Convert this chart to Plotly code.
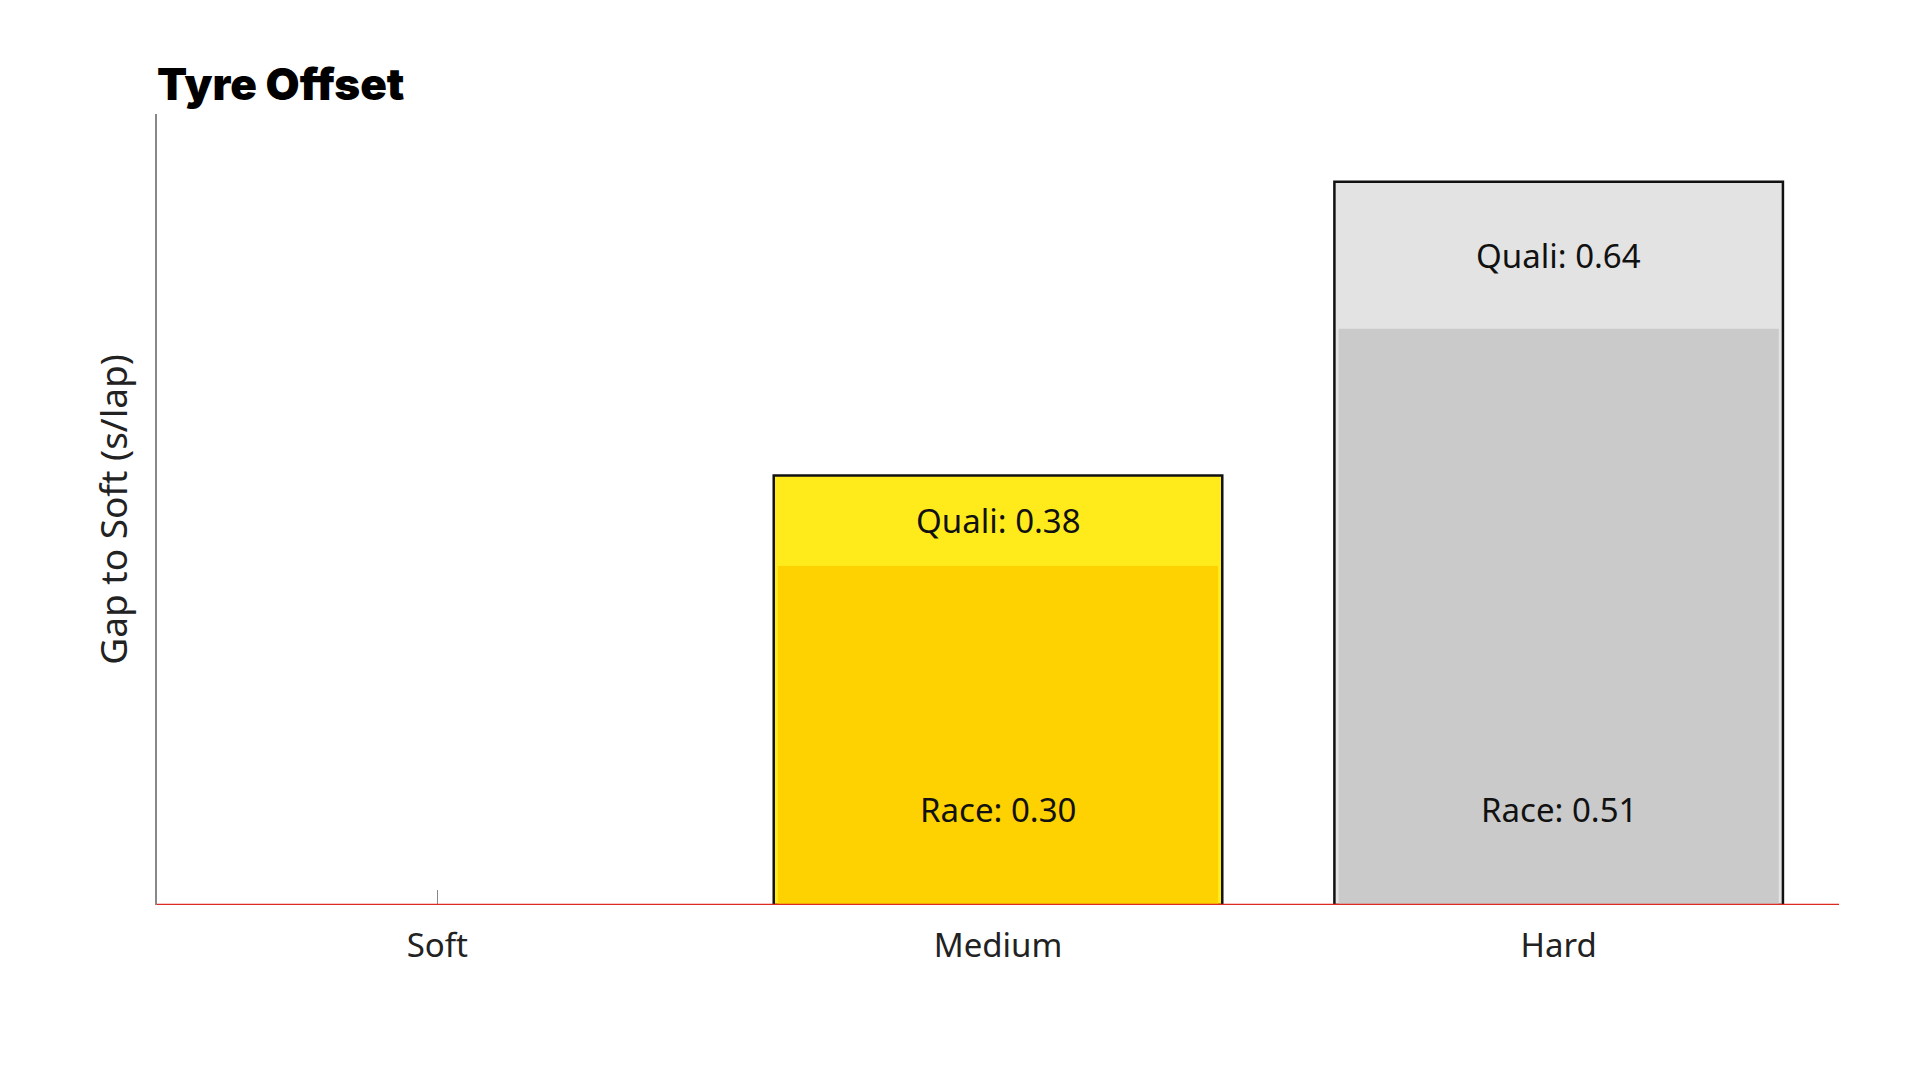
import plotly.graph_objects as go

compounds = ['Soft', 'Medium', 'Hard']
quali_gap = [0.0, 0.38, 0.64]
race_gap = [0.0, 0.30, 0.51]

quali_colors = ['#FFFFFF', '#FFEB1C', '#E3E3E3']
race_colors = ['#FFFFFF', '#FED200', '#CACACA']

font_name = 'Noto Sans'

quali = go.Bar(x=compounds, y=quali_gap, width=0.8,
               marker=dict(color=quali_colors,
                           line=dict(color=['rgba(0,0,0,0)', '#111111', '#111111'], width=2.5)),
               hoverinfo='skip', name='Quali')
race = go.Bar(x=compounds, y=race_gap, width=0.785,
              marker=dict(color=race_colors, line=dict(width=0)),
              hoverinfo='skip', name='Race')

fig = go.Figure(data=[quali, race])

# labels: quali in the middle of the top segment, race near the bottom
for c, q, r in zip(compounds, quali_gap, race_gap):
    if q == 0:
        continue
    fig.add_annotation(x=c, y=(q + r) / 2, text=f'Quali: {q:.2f}', showarrow=False,
                       font=dict(family=font_name, size=33, color='#111111'))
    fig.add_annotation(x=c, y=0, yshift=96, text=f'Race: {r:.2f}', showarrow=False,
                       font=dict(family=font_name, size=33, color='#111111'))

# red baseline drawn over the bars
fig.add_shape(type='line', xref='paper', yref='y', x0=0, x1=1, y0=0, y1=0,
              line=dict(color='#DC2A1E', width=2.5), layer='above')

fig.update_layout(
    width=1920, height=1080,
    barmode='overlay', showlegend=False,
    plot_bgcolor='white', paper_bgcolor='white',
    margin=dict(l=149, r=89, t=106, b=183),
    title=dict(text='Tyre Offset', x=0, xref='paper', xanchor='left',
               y=1, yref='container', yanchor='top', pad=dict(t=61),
               font=dict(family='Inter', size=44, weight=900, color='#000000')),
    font=dict(family=font_name, color='#222222'),
)

fig.update_xaxes(range=[-0.5, 2.5], showline=False, showgrid=False, zeroline=False,
                 ticks='inside', ticklen=15, tickcolor='#888888', tickwidth=1,
                 layer='below traces', ticklabelstandoff=18,
                 tickfont=dict(family=font_name, size=33, color='#222222'))
fig.update_yaxes(range=[0, 0.7], showline=True, linecolor='#888888', linewidth=1.5,
                 showgrid=False, zeroline=False, showticklabels=False, ticks='',
                 title=dict(text='Gap to Soft (s/lap)', standoff=16,
                            font=dict(family=font_name, size=37, color='#222222')))

fig.write_html('out.html')
